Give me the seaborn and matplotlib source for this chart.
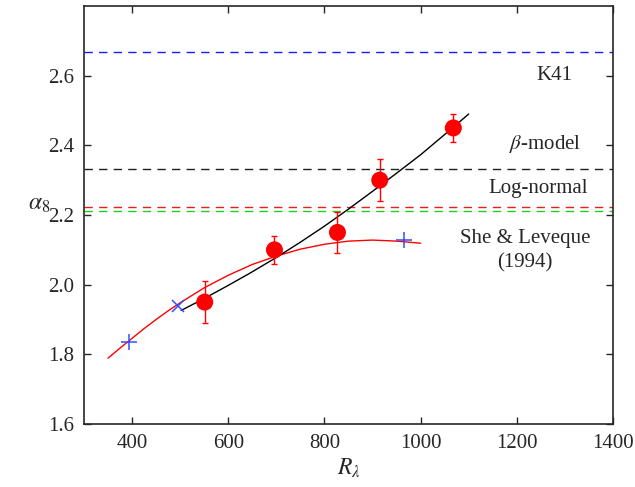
import numpy as np
import pandas as pd
import seaborn as sns
import matplotlib
matplotlib.use("Agg")
import matplotlib.pyplot as plt

# measured alpha_8 vs R_lambda
r_lambda = [551, 696, 827, 915, 1068]
alpha8 = [1.95, 2.10, 2.15, 2.30, 2.45]
alpha8_err = [0.06, 0.04, 0.058, 0.06, 0.04]

# blue reference markers
plus_r = [394, 966]
plus_a = [1.836, 2.127]
cross_r = [496]
cross_a = [1.940]

# red fitted curve
red_r = [350, 375, 400, 425, 450, 475, 500, 550, 600, 650, 700, 750, 800, 850, 900, 950, 1000]
red_a = [1.789, 1.818, 1.846, 1.874, 1.900, 1.925, 1.948, 1.991, 2.027, 2.058, 2.082,
         2.102, 2.116, 2.125, 2.128, 2.125, 2.119]

# black curve
black_r = [502, 551, 600, 645, 700, 750, 800, 850, 900, 950, 1000, 1068, 1100]
black_a = [1.926, 1.961, 1.998, 2.033, 2.078, 2.122, 2.168, 2.217, 2.268, 2.320,
           2.373, 2.452, 2.490]

# model predictions
model_values = [8 / 3, 2.333, 2.2225, 2.2115]
model_colors = ["#1a1aff", "#202020", "#ee1c1c", "#22cc22"]

labels = ["K41", r"$\beta$-model", "Log-normal", "She & Leveque\n(1994)"]
label_pos = [(1279, 2.60), (1258, 2.405), (1244, 2.275), (1217, 2.098)]

sns.set_style("ticks")
plt.rcParams["font.family"] = ["Liberation Serif", "DejaVu Serif"]
plt.rcParams["mathtext.fontset"] = "stix"

fig = plt.figure(figsize=(6.35, 4.87), dpi=100)
ax = fig.add_axes([84 / 635, 1 - 424 / 487, 529 / 635, 418 / 487])

for v, c in zip(model_values, model_colors):
    ax.axhline(v, color=c, lw=1.0, ls=(0, (6, 4.5)))

sns.lineplot(x=red_r, y=red_a, ax=ax, color="red", lw=1.0, sort=True)
sns.lineplot(x=black_r, y=black_a, ax=ax, color="black", lw=1.0, sort=True)

ax.errorbar(r_lambda, alpha8, yerr=alpha8_err, fmt="none", ecolor="red",
            elinewidth=1.0, capsize=2.2, capthick=1.0, zorder=3)
sns.scatterplot(x=r_lambda, y=alpha8, ax=ax, color="red", s=150,
                edgecolor="none", zorder=4)

ax.plot(plus_r, plus_a, ls="none", marker="+", ms=11, mew=1.1, color="#3050ff", zorder=5)
ax.plot(cross_r, cross_a, ls="none", marker="x", ms=8, mew=1.1, color="#3050ff", zorder=5)

for txt, (x, y) in zip(labels, label_pos):
    ax.text(x, y, txt, ha="center", va="center", fontsize=15, linespacing=1.35)

ax.set_xlim(300, 1400)
ax.set_ylim(1.6, 2.8)
ax.set_xticks([400, 600, 800, 1000, 1200, 1400])
ax.set_yticks([1.6, 1.8, 2.0, 2.2, 2.4, 2.6])
ax.set_yticklabels(["1.6", "1.8", "2.0", "2.2", "2.4", "2.6"])
ax.tick_params(direction="in", length=5, width=1, top=True, right=True,
               labelsize=15, pad=7)
for s in ax.spines.values():
    s.set_linewidth(1.2)

ax.set_xlabel(r"$R_\lambda$", fontsize=17, labelpad=3)
ax.set_ylabel(r"$\alpha_8$", fontsize=17, rotation=0, labelpad=4)
ax.yaxis.set_label_coords(-0.085, 0.50)

fig.savefig("out.png", dpi=100)
